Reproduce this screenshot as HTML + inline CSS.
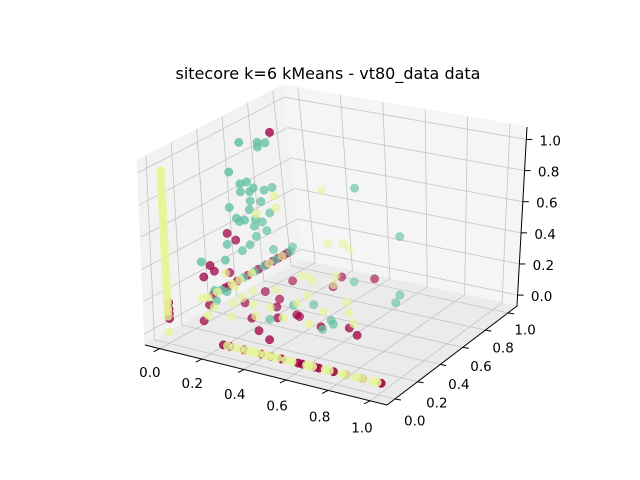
<!DOCTYPE html>
<html><head><meta charset="utf-8"><style>
html,body{margin:0;padding:0;background:#fff;}
svg{display:block;font-family:"DejaVu Sans","Liberation Sans",sans-serif;}
</style></head><body>
<svg id="chart" width="640" height="480" viewBox="0 0 640 480" xmlns="http://www.w3.org/2000/svg">
<rect x="0" y="0" width="640" height="480" fill="#fff"/>
<text x="328" y="79" font-size="16" text-anchor="middle" fill="#000">sitecore k=6 kMeans - vt80_data data</text>
<g id="panes"></g>
<g id="grid"></g>
<g id="axes"></g>
<g id="points"></g>
</svg>
<script>
const xTicks = [0.0, 0.2, 0.4, 0.6, 0.8, 1.0];
const yTicks = [0.0, 0.2, 0.4, 0.6, 0.8, 1.0];
const zTicks = [0.0, 0.2, 0.4, 0.6, 0.8, 1.0];
const tickLabels = ["0.0", "0.2", "0.4", "0.6", "0.8", "1.0"];

const magentaPts = [
 [-0.06,0.10,0.02],[-0.06,0.10,0.05],[-0.06,0.10,0.08],[-0.06,0.10,0.12],
 [0.21,0.08,-0.05],[0.24,0.08,-0.05],[0.31,0.08,-0.05],[0.39,0.08,-0.05],[0.44,0.08,-0.05],[0.49,0.08,-0.05],[0.57,0.08,-0.05],[0.59,0.08,-0.05],[0.65,0.08,-0.05],[0.67,0.08,-0.05],[0.74,0.08,-0.05],[0.80,0.08,-0.05],[0.88,0.08,-0.05],[0.97,0.08,-0.05],
 [0.08,0.22,0.16],[0.08,0.31,0.16],[0.08,0.40,0.16],[0.08,0.48,0.16],[0.08,0.56,0.16],[0.08,0.62,0.16],[0.08,0.67,0.16],[0.08,0.71,0.16],[0.08,0.75,0.16],[0.08,0.78,0.16],
 [0.08,0.71,0.97],[-0.01,0.48,0.40],[-0.01,0.54,0.33],[-0.01,0.34,0.26],[-0.01,0.37,0.21],[-0.01,0.29,0.21],[-0.01,0.48,0.15],[-0.01,0.47,0.07],[-0.01,0.32,0.02],
 [0.06,0.83,-0.05],[0.03,0.67,-0.05],[0.13,0.63,-0.05],[0.03,0.52,-0.05],[0.17,0.55,-0.05],[0.15,0.39,-0.05],[0.25,0.29,-0.05],[0.00,0.26,-0.05],[0.24,0.45,-0.05],[0.29,0.52,-0.05],[0.31,0.51,-0.05],[0.25,0.86,-0.05],[0.22,0.97,-0.05],[0.36,1.02,-0.05],[0.45,0.46,-0.05],[0.56,0.51,-0.05],[0.63,0.46,-0.05],[0.34,0.23,-0.05]
];
const tealPts = [
 [0.08,0.28,0.16],[0.08,0.45,0.16],[0.08,0.53,0.16],[0.08,0.60,0.16],[0.08,0.69,0.16],[0.08,0.80,0.16],
 [0.08,0.47,1.01],[0.08,0.61,0.95],[0.08,0.61,0.92],[0.08,0.67,0.92],[0.08,0.38,0.86],[0.08,0.46,0.75],[0.08,0.51,0.74],[0.08,0.56,0.68],[0.08,0.64,0.63],[0.08,0.70,0.62],
 [0.08,0.46,0.70],[0.08,0.53,0.67],[0.08,0.53,0.61],[0.08,0.61,0.57],[0.08,0.37,0.64],[0.08,0.52,0.56],[0.08,0.67,0.47],[0.08,0.42,0.55],[0.08,0.48,0.51],[0.08,0.56,0.48],
 [0.08,0.61,0.44],[0.08,0.44,0.52],[0.08,0.55,0.44],[0.08,0.64,0.37],[0.08,0.56,0.37],[0.08,0.34,0.42],[0.08,0.51,0.34],[0.08,0.45,0.33],[0.08,0.82,0.18],[0.08,0.68,0.23],
 [0.08,0.32,0.33],[0.08,0.14,0.40],[0.08,0.23,0.18],[0.08,0.32,0.13],[0.08,0.24,0.11],
 [0.22,0.42,-0.05],[0.45,0.54,-0.05],[0.48,0.51,-0.05],[0.47,0.44,-0.05],[0.22,0.60,-0.05],[0.29,0.65,-0.05],[0.56,0.92,-0.05],[0.59,0.84,-0.05],[0.30,0.95,-0.05],
 [0.24,1.08,0.48],[0.46,1.08,0.22]
];
const yellowPts = [
 [-0.06,0.09,-0.06],[-0.06,0.09,0.04],[-0.06,0.09,0.07],[-0.06,0.09,0.09],[-0.06,0.09,0.12],[-0.06,0.09,0.14],[-0.06,0.09,0.17],[-0.06,0.09,0.19],[-0.06,0.09,0.22],[-0.06,0.09,0.24],[-0.06,0.09,0.27],[-0.06,0.09,0.29],[-0.06,0.09,0.32],[-0.06,0.09,0.34],[-0.06,0.09,0.37],[-0.06,0.09,0.39],[-0.06,0.09,0.42],[-0.06,0.09,0.44],[-0.06,0.09,0.47],[-0.06,0.09,0.49],[-0.06,0.09,0.52],[-0.06,0.09,0.54],[-0.06,0.09,0.57],[-0.06,0.09,0.59],[-0.06,0.09,0.62],[-0.06,0.09,0.64],[-0.06,0.09,0.67],[-0.06,0.09,0.69],[-0.06,0.09,0.72],[-0.06,0.09,0.74],[-0.06,0.09,0.77],[-0.06,0.09,0.79],[-0.06,0.09,0.82],[-0.06,0.09,0.84],[-0.06,0.09,0.87],[-0.06,0.09,0.89],[-0.06,0.09,0.92],[-0.06,0.09,0.95],
 [0.23,0.08,-0.05],[0.26,0.08,-0.05],[0.29,0.08,-0.05],[0.32,0.08,-0.05],[0.34,0.08,-0.05],[0.36,0.08,-0.05],[0.38,0.08,-0.05],[0.41,0.08,-0.05],[0.43,0.08,-0.05],[0.45,0.08,-0.05],[0.47,0.08,-0.05],[0.51,0.08,-0.05],[0.54,0.08,-0.05],[0.61,0.08,-0.05],[0.62,0.08,-0.05],[0.64,0.08,-0.05],[0.70,0.08,-0.05],[0.72,0.08,-0.05],[0.78,0.08,-0.05],[0.80,0.08,-0.05],[0.85,0.08,-0.05],[0.88,0.08,-0.05],[0.93,0.08,-0.05],[0.95,0.08,-0.05],
 [0.08,0.18,0.16],[0.08,0.25,0.16],[0.08,0.36,0.16],[0.08,0.42,0.16],[0.08,0.51,0.16],[0.08,0.64,0.16],[0.08,0.74,0.16],
 [0.07,1.08,0.42],[0.16,1.08,0.10],[0.19,1.08,0.07],[0.08,1.08,0.08],[0.08,0.71,0.56],[0.08,0.72,0.48],[0.08,0.57,0.51],
 [0.06,0.90,-0.05],[0.10,0.90,-0.05],[0.14,0.87,-0.05],[0.19,0.97,-0.05],[0.24,0.88,-0.05],[0.21,0.72,-0.05],[0.22,0.63,-0.05],[0.37,0.61,-0.05],[0.40,0.74,-0.05],[0.47,0.65,-0.05],[0.55,0.56,-0.05],
 [0.39,0.46,-0.05],[0.26,0.46,-0.05],[0.15,0.53,-0.05],[0.15,0.42,-0.05],[0.07,0.52,-0.05],[-0.01,0.56,-0.05],[-0.01,0.49,-0.05],[-0.01,0.45,0.16],[-0.01,0.51,0.045],[-0.02,0.65,-0.05],[0.06,0.71,-0.05],
 [-0.05,0.33,0.045],[-0.02,0.32,-0.05],[0.07,0.36,-0.05],[-0.05,0.41,-0.05]
];

const lo = -0.07, hi = 1.08;
const C = {
 "000":[145,345], "100":[387,405], "010":[302,260], "110":[517,306],
 "001":[137,160], "101":[392,218], "011":[283,85],  "111":[527,127]
};
const NS = "http://www.w3.org/2000/svg";
function nrm(d){ return (d - lo) / (hi - lo); }
function projN(u,v,w){
  const r=[0,0];
  for(let i=0;i<2;i++)for(let j=0;j<2;j++)for(let k=0;k<2;k++){
    const wt=(i?u:1-u)*(j?v:1-v)*(k?w:1-w);
    const c=C[""+i+j+k]; r[0]+=wt*c[0]; r[1]+=wt*c[1];
  }
  return r;
}
function proj(x,y,z){ return projN(nrm(x),nrm(y),nrm(z)); }
function mk(tag, attrs, parent){
  const el=document.createElementNS(NS,tag);
  for(const k in attrs) el.setAttribute(k, attrs[k]);
  parent.appendChild(el); return el;
}
function line(p,q,stroke,sw,parent,name){
  const el=mk("line",{x1:p[0],y1:p[1],x2:q[0],y2:q[1],stroke:stroke,"stroke-width":sw},parent);
  
  
  return el;
}
const panes=document.getElementById("panes");
function pane(keys,fill,name){
  const pts=keys.map(k=>C[k].join(",")).join(" ");
  const el=mk("polygon",{points:pts,fill:fill,stroke:fill,"stroke-width":1},panes);
  
  
}
pane(["000","010","011","001"],"#f2f2f2","x-pane");
pane(["010","110","111","011"],"#f5f5f5","y-pane");
pane(["000","100","110","010"],"#ebebeb","z-pane");

const grid=document.getElementById("grid");
const gc="#c4c4c4";
xTicks.forEach(t=>{
  line(proj(t,lo,lo),proj(t,hi,lo),gc,0.8,grid,"x-gridline");
  line(proj(t,hi,lo),proj(t,hi,hi),gc,0.8,grid,"x-gridline");
});
yTicks.forEach(t=>{
  line(proj(lo,t,lo),proj(hi,t,lo),gc,0.8,grid,"y-gridline");
  line(proj(lo,t,lo),proj(lo,t,hi),gc,0.8,grid,"y-gridline");
});
zTicks.forEach(t=>{
  line(proj(lo,lo,t),proj(lo,hi,t),gc,0.8,grid,"z-gridline");
  line(proj(lo,hi,t),proj(hi,hi,t),gc,0.8,grid,"z-gridline");
});

const axes=document.getElementById("axes");
line(C["000"],C["100"],"#000",1,axes,"x-axis-line");
line(C["100"],C["110"],"#000",1,axes,"y-axis-line");
line(C["110"],C["111"],"#000",1,axes,"z-axis-line");
function label(p,txt,name){
  const el=mk("text",{x:p[0],y:p[1]+5,"font-size":"13.5","text-anchor":"middle",fill:"#000"},axes);
  el.textContent=txt;
  
  
}
xTicks.forEach((t,i)=>{
  const p=proj(t,lo,lo); const n=nrm(t);
  line(p,[p[0]-6,p[1]+3],"#000",1,axes,"x-tick");
  label([p[0]-10+2*n,p[1]+23+4*n],tickLabels[i],"x-tick-label");
});
yTicks.forEach((t,i)=>{
  const p=proj(hi,t,lo); const n=nrm(t);
  line(p,[p[0]+6,p[1]+1],"#000",1,axes,"y-tick");
  label([p[0]+20-3*n,p[1]+22-6*n],tickLabels[i],"y-tick-label");
});
zTicks.forEach((t,i)=>{
  const p=proj(hi,hi,t);
  line(p,[p[0]+6,p[1]],"#000",1,axes,"z-tick");
  label([p[0]+24,p[1]+1],tickLabels[i],"z-tick-label");
});

const ptsG=document.getElementById("points");
function drawCluster(pts,color,name){
  const list=pts.map(p=>({p:p,d:0.43*nrm(p[0])-0.75*nrm(p[1])+0.5*nrm(p[2])}));
  list.sort((a,b)=>a.d-b.d);
  list.forEach(o=>{
    const s=proj(o.p[0],o.p[1],o.p[2]);
    const op=Math.max(0.5,Math.min(1,0.5+0.5*(o.d+0.75)/1.3));
    const el=mk("circle",{cx:s[0].toFixed(1),cy:s[1].toFixed(1),r:4.2,fill:color,stroke:color,"stroke-width":0.5,"fill-opacity":op,"stroke-opacity":op},ptsG);
    
    
  });
}
drawCluster(magentaPts,"#9e0142","magenta-cluster-point");
drawCluster(tealPts,"#66c2a5","teal-cluster-point");
drawCluster(yellowPts,"#e6f598","yellow-cluster-point");
</script>
</body></html>
